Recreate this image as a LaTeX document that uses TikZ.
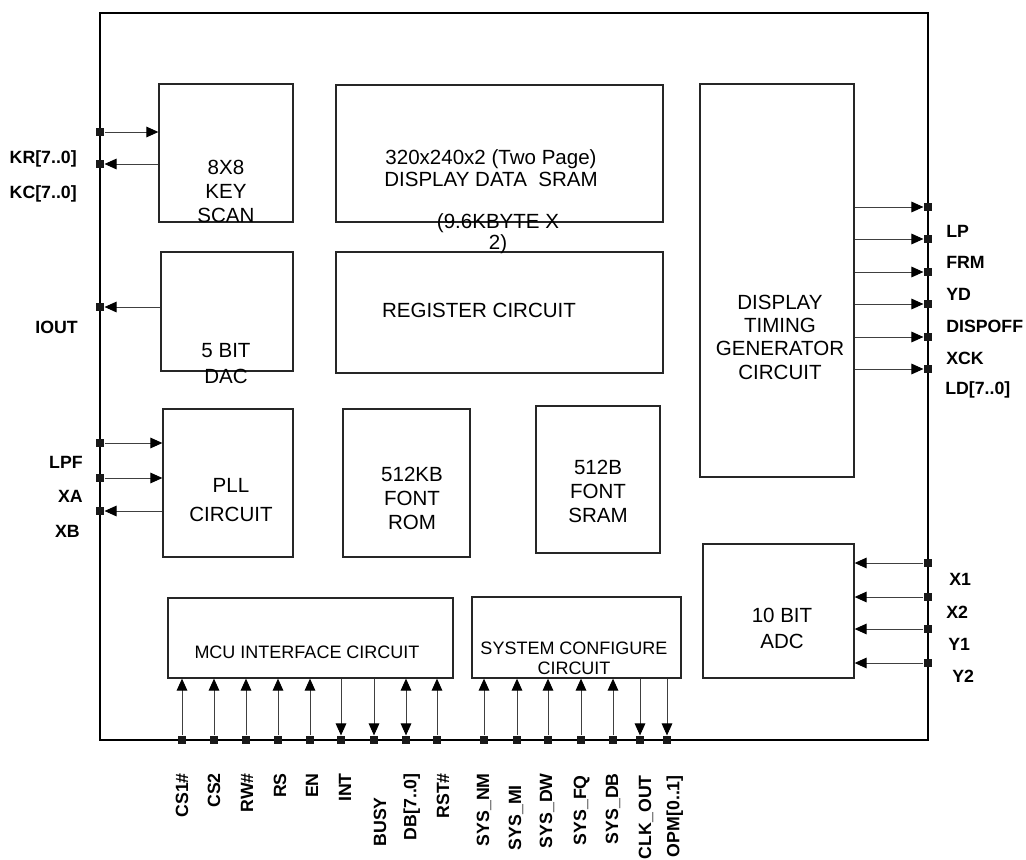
\documentclass[tikz,border=0pt]{standalone}
\usepackage{fontspec}
\setmainfont{Liberation Sans}
\usetikzlibrary{arrows.meta}
\usetikzlibrary{fit}
\usetikzlibrary{positioning}

\begin{document}
\begin{tikzpicture}[x=0.75pt,y=-0.75pt,
	blk/.style={draw=black!85, line width=1pt, inner sep=0pt, fit={#1}},
	btxt/.style={font=\fontsize{15.4}{18}\selectfont, align=center, inner sep=0pt},
	stxt/.style={font=\fontsize{13.5}{15}\selectfont, align=center, inner sep=0pt},
	lbl/.style={font=\bfseries\fontsize{13.3}{15}\selectfont, inner sep=0pt, text depth=0pt},
	vlbl/.style={lbl, rotate=90, anchor=east},
	pad/.style={rectangle, fill=black!90, minimum size=6.5pt, inner sep=0pt},
	sig/.style={draw=black!75, line width=0.7pt, -{Triangle[black, length=9pt, width=8pt]}},
	bisig/.style={draw=black!75, line width=0.7pt, {Triangle[black, length=9pt, width=8pt]}-{Triangle[black, length=9pt, width=8pt]}}]
	\useasboundingbox (0,0) rectangle (1026,860);

	% chip outline
	\node[blk={(100,13) (928,740)}, line width=2pt, draw=black] (chip) {};

	% blocks
	\node[blk={(159,84) (293,222)}]  (key)  {};
	\node[blk={(161,252) (293,371)}] (dac)  {};
	\node[blk={(163,409) (293,557)}] (pll)  {};
	\node[blk={(336,85) (663,222)}]  (sram) {};
	\node[blk={(336,252) (663,373)}] (reg)  {};
	\node[blk={(343,409) (470,557)}] (rom)  {};
	\node[blk={(536,406) (660,553)}] (fsram) {};
	\node[blk={(700,84) (854,477)}]  (tmg)  {};
	\node[blk={(703,544) (854,678)}] (adc)  {};
	\node[blk={(168,598) (453,678)}] (mcu)  {};
	\node[blk={(472,597) (681,678)}] (cfg)  {};

	% block texts
	\node[btxt] (t-key)   at (226,191.5) {8X8\\KEY\\SCAN};
	\node[btxt] (t-dac)   at (226,363.5) {5 BIT\\[1.5pt]DAC};
	\node[btxt] (t-pll)   at (231,500)   {PLL\\[4pt]CIRCUIT};
	\node[btxt] (t-sram)  at (491,168)   {320x240x2 (Two Page)\\[-1.5pt]DISPLAY DATA\ \ SRAM};
	\node[btxt, font=\fontsize{15.4}{14.3}\selectfont] (t-sram2) at (498,233.5) {(9.6KBYTE X\\2)};
	\node[btxt] (t-reg)   at (479,310)   {REGISTER CIRCUIT};
	\node[btxt] (t-rom)   at (412,498)   {512KB\\FONT\\ROM};
	\node[btxt] (t-fsram) at (598,491)   {512B\\FONT\\SRAM};
	\node[btxt, font=\fontsize{15.4}{17.5}\selectfont] (t-tmg) at (780,337) {DISPLAY\\TIMING\\GENERATOR\\CIRCUIT};
	\node[btxt] (t-adc)   at (782,628.5) {10 BIT\\[1.5pt]ADC};
	\node[stxt] (t-mcu)   at (307,652)   {MCU INTERFACE CIRCUIT};
	\node[stxt] (t-cfg)   at (574,658)   {SYSTEM CONFIGURE\\CIRCUIT};

	% pads
	\begin{scope}[every node/.style={pad}]
		\node (p-kr)   at (100,132) {};
		\node (p-kc)   at (100,164) {};
		\node (p-iout) at (100,307) {};
		\node (p-lpf)  at (100,443) {};
		\node (p-xa)   at (100,478) {};
		\node (p-xb)   at (100,511) {};
		\node (p-lp)   at (928,207) {};
		\node (p-frm)  at (928,239) {};
		\node (p-yd)   at (928,272) {};
		\node (p-doff) at (928,304) {};
		\node (p-xck)  at (928,337) {};
		\node (p-ld)   at (928,369) {};
		\node (p-x1)   at (928,563) {};
		\node (p-x2)   at (928,597) {};
		\node (p-y1)   at (928,629) {};
		\node (p-y2)   at (928,663) {};
		\node (p-cs1)  at (182,740) {};
		\node (p-cs2)  at (214,740) {};
		\node (p-rw)   at (246,740) {};
		\node (p-rs)   at (278,740) {};
		\node (p-en)   at (310,740) {};
		\node (p-int)  at (341,740) {};
		\node (p-busy) at (374,740) {};
		\node (p-db)   at (406,740) {};
		\node (p-rst)  at (437,740) {};
		\node (p-nm)   at (484,740) {};
		\node (p-mi)   at (517,740) {};
		\node (p-dw)   at (548,740) {};
		\node (p-fq)   at (581,740) {};
		\node (p-sdb)  at (613,740) {};
		\node (p-clk)  at (640,740) {};
		\node (p-opm)  at (667,740) {};
	\end{scope}

	% signals
	\draw[sig] (p-kr) -- (key.west |- p-kr);
	\draw[sig] (key.west |- p-kc) -- (p-kc);
	\draw[sig] (dac.west |- p-iout) -- (p-iout);
	\draw[sig] (p-lpf) -- (pll.west |- p-lpf);
	\draw[sig] (p-xa) -- (pll.west |- p-xa);
	\draw[sig] (pll.west |- p-xb) -- (p-xb);
	\draw[sig] (tmg.east |- p-lp) -- (p-lp);
	\draw[sig] (tmg.east |- p-frm) -- (p-frm);
	\draw[sig] (tmg.east |- p-yd) -- (p-yd);
	\draw[sig] (tmg.east |- p-doff) -- (p-doff);
	\draw[sig] (tmg.east |- p-xck) -- (p-xck);
	\draw[sig] (tmg.east |- p-ld) -- (p-ld);
	\draw[sig] (p-x1) -- (adc.east |- p-x1);
	\draw[sig] (p-x2) -- (adc.east |- p-x2);
	\draw[sig] (p-y1) -- (adc.east |- p-y1);
	\draw[sig] (p-y2) -- (adc.east |- p-y2);
	\draw[sig] (p-cs1) -- (mcu.south -| p-cs1);
	\draw[sig] (p-cs2) -- (mcu.south -| p-cs2);
	\draw[sig] (p-rw) -- (mcu.south -| p-rw);
	\draw[sig] (p-rs) -- (mcu.south -| p-rs);
	\draw[sig] (p-en) -- (mcu.south -| p-en);
	\draw[sig] (mcu.south -| p-int) -- (p-int);
	\draw[sig] (mcu.south -| p-busy) -- (p-busy);
	\draw[bisig] (mcu.south -| p-db) -- (p-db);
	\draw[sig] (p-rst) -- (mcu.south -| p-rst);
	\draw[sig] (p-nm) -- (cfg.south -| p-nm);
	\draw[sig] (p-mi) -- (cfg.south -| p-mi);
	\draw[sig] (p-dw) -- (cfg.south -| p-dw);
	\draw[sig] (p-fq) -- (cfg.south -| p-fq);
	\draw[sig] (p-sdb) -- (cfg.south -| p-sdb);
	\draw[sig] (cfg.south -| p-clk) -- (p-clk);
	\draw[sig] (cfg.south -| p-opm) -- (p-opm);

	% pin names
	\node[lbl, anchor=east] (l-kr)   at (77,157)  {KR[7..0]};
	\node[lbl, anchor=east] (l-kc)   at (77,192)  {KC[7..0]};
	\node[lbl, anchor=east] (l-iout) at (78,327)  {IOUT};
	\node[lbl, anchor=east] (l-lpf)  at (83,462)  {LPF};
	\node[lbl, anchor=east] (l-xa)   at (83,496)  {XA};
	\node[lbl, anchor=east] (l-xb)   at (80,531)  {XB};
	\node[lbl, anchor=west] (l-lp)   at (946,231) {LP};
	\node[lbl, anchor=west] (l-frm)  at (946,262) {FRM};
	\node[lbl, anchor=west] (l-yd)   at (946,294) {YD};
	\node[lbl, anchor=west] (l-doff) at (946,326) {DISPOFF};
	\node[lbl, anchor=west] (l-xck)  at (946,358) {XCK};
	\node[lbl, anchor=west] (l-ld)   at (945,388) {LD[7..0]};
	\node[lbl, anchor=west] (l-x1)   at (949,579) {X1};
	\node[lbl, anchor=west] (l-x2)   at (946,612) {X2};
	\node[lbl, anchor=west] (l-y1)   at (948,644) {Y1};
	\node[lbl, anchor=west] (l-y2)   at (952,676) {Y2};
	\node[vlbl] (l-cs1)  at (182,773) {CS1\#};
	\node[vlbl] (l-cs2)  at (214,773) {CS2};
	\node[vlbl] (l-rw)   at (247,773) {RW\#};
	\node[vlbl] (l-rs)   at (280,773) {RS};
	\node[vlbl] (l-en)   at (312,773) {EN};
	\node[vlbl] (l-int)  at (345,773) {INT};
	\node[vlbl] (l-busy) at (380,797) {BUSY};
	\node[vlbl] (l-db)   at (410,773) {DB[7..0]};
	\node[vlbl] (l-rst)  at (443,773) {RST\#};
	\node[vlbl] (l-nm)   at (483,773) {SYS\_NM};
	\node[vlbl] (l-mi)   at (515,785) {SYS\_MI};
	\node[vlbl] (l-dw)   at (546,773) {SYS\_DW};
	\node[vlbl] (l-fq)   at (580,775) {SYS\_FQ};
	\node[vlbl] (l-sdb)  at (612,773) {SYS\_DB};
	\node[vlbl] (l-clk)  at (645,775) {CLK\_OUT};
	\node[vlbl] (l-opm)  at (673,775) {OPM[0..1]};
\end{tikzpicture}
\end{document}
